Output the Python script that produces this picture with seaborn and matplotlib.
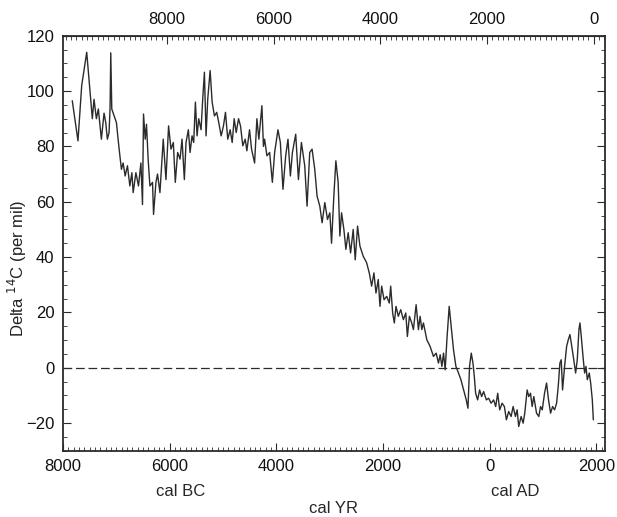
"""
Delta 14C record over the Holocene, redrawn from a scanned figure.

Bottom axis is calendar years (BC on the left, AD on the right),
top axis is the same time axis in years BP (BP = 1950 - AD).
"""
import matplotlib
matplotlib.use("Agg")
import matplotlib.pyplot as plt
import matplotlib.ticker as mticker
import pandas as pd
import seaborn as sns

# ---- values (year AD, negative = BC) ---- #
years = [
    -7825, -7718, -7648, -7554, -7449, -7417, -7373, -7336, -7279, -7229,
    -7197, -7167, -7135, -7116, -7103, -7084, -7040, -6997, -6946, -6903,
    -6871, -6833, -6790, -6745, -6707, -6683, -6632, -6583, -6538, -6508,
    -6489, -6457, -6433, -6401, -6369, -6320, -6301, -6256, -6226, -6181,
    -6119, -6068, -6019, -5974, -5930, -5893, -5849, -5804, -5767, -5723,
    -5692, -5648, -5616, -5579, -5548, -5516, -5485, -5454, -5410, -5379,
    -5347, -5316, -5285, -5240, -5202, -5159, -5116, -5078, -5033, -4990,
    -4952, -4909, -4864, -4826, -4789, -4751, -4707, -4670, -4627, -4582,
    -4551, -4501, -4463, -4406, -4363, -4326, -4269, -4240, -4218, -4175,
    -4124, -4073, -4030, -3968, -3923, -3874, -3823, -3780, -3735, -3697,
    -3635, -3584, -3528, -3466, -3422, -3372, -3328, -3278, -3234, -3183,
    -3140, -3089, -3039, -2995, -2963, -2920, -2882, -2839, -2807, -2775,
    -2732, -2694, -2651, -2606, -2557, -2519, -2475, -2431, -2369, -2306,
    -2256, -2211, -2168, -2130, -2087, -2055, -2023, -1979, -1929, -1880,
    -1854, -1817, -1786, -1754, -1711, -1666, -1616, -1571, -1541, -1503,
    -1459, -1428, -1377, -1334, -1302, -1270, -1240, -1176, -1114, -1052,
    -1001, -958, -926, -894, -863, -832, -800, -757, -719, -676,
    -631, -582, -537, -487, -437, -405, -375, -343, -311, -286,
    -261, -224, -186, -149, -111, -60, -17, 28, 77, 115,
    153, 190, 235, 278, 316, 359, 404, 442, 485, 517,
    547, 592, 630, 660, 705, 735, 768, 799, 830, 881,
    924, 956, 988, 1031, 1069, 1106, 1144, 1182, 1219, 1257,
    1288, 1319, 1344, 1369, 1407, 1445, 1476, 1507, 1532, 1570,
    1614, 1645, 1676, 1695, 1720, 1758, 1783, 1808, 1833, 1870,
    1896, 1927, 1946,
]
delta14c = [
    96.5, 82.0, 102.0, 114.0, 90.0, 97.0, 90.0, 93.5, 82.6, 92.0,
    88.6, 82.6, 85.0, 94.0, 113.8, 93.5, 91.0, 88.6, 79.0, 71.7,
    74.0, 69.3, 73.0, 65.7, 70.5, 63.3, 70.5, 65.7, 74.0, 59.0,
    91.7, 82.6, 88.0, 75.0, 65.7, 67.0, 55.4, 67.0, 70.0, 63.3,
    82.6, 68.0, 87.4, 79.0, 81.4, 67.0, 77.8, 75.4, 82.6, 68.0,
    81.4, 86.0, 77.8, 83.8, 81.4, 96.0, 83.8, 90.0, 86.0, 97.0,
    106.8, 83.8, 97.0, 107.4, 96.0, 91.0, 92.3, 88.6, 83.8, 87.4,
    92.3, 82.6, 86.0, 81.4, 90.0, 85.0, 90.0, 87.4, 80.2, 82.6,
    78.4, 86.0, 79.0, 74.0, 90.0, 82.6, 94.7, 80.0, 82.6, 76.6,
    77.8, 67.0, 77.8, 86.0, 81.4, 64.5, 76.6, 82.6, 69.3, 77.8,
    84.4, 68.0, 81.4, 73.0, 58.4, 77.8, 79.0, 71.7, 62.0, 58.4,
    52.4, 59.7, 53.6, 56.0, 45.0, 62.0, 74.8, 67.0, 47.6, 56.0,
    50.0, 42.8, 48.8, 41.5, 50.0, 39.0, 51.2, 44.0, 40.3, 38.0,
    34.3, 29.5, 34.3, 27.0, 31.9, 22.2, 29.5, 24.6, 25.8, 23.4,
    29.5, 19.8, 16.2, 22.2, 18.6, 21.0, 17.4, 19.8, 11.3, 18.6,
    16.2, 13.8, 22.8, 13.8, 18.6, 13.8, 16.2, 10.1, 7.7, 4.1,
    5.3, 1.7, 4.7, 0.5, 5.3, -0.7, 10.1, 22.2, 15.0, 6.5,
    0.5, -1.9, -4.3, -8.0, -11.6, -14.6, 0.5, 5.3, 1.7, -3.1,
    -9.2, -11.6, -8.0, -10.4, -8.6, -11.6, -11.0, -12.8, -11.6, -14.0,
    -9.2, -15.2, -12.8, -14.0, -18.8, -15.8, -17.6, -14.0, -17.6, -15.2,
    -21.2, -17.6, -20.0, -16.4, -8.0, -10.4, -9.2, -14.0, -10.4, -16.4,
    -17.6, -14.0, -15.2, -9.2, -5.5, -11.6, -16.4, -14.0, -15.2, -12.8,
    -6.7, 1.7, 2.9, -8.0, 0.5, 7.7, 10.1, 12.0, 9.0, 4.1,
    -1.9, 2.9, 13.8, 16.2, 11.3, 2.9, -1.9, 0.5, -4.3, -1.9,
    -5.5, -11.6, -18.8,
]

bottom_ticks = [-8000, -6000, -4000, -2000, 0, 2000]
top_ticks_bp = [8000, 6000, 4000, 2000, 0]
y_ticks = [-20, 0, 20, 40, 60, 80, 100, 120]

INK = "#2b2b2b"
FS = 12


def style_ticks(axis_obj, **extra):
    axis_obj.tick_params(which="both", direction="in", colors=INK,
                         labelsize=FS, labelcolor="#111111", **extra)
    axis_obj.tick_params(which="major", length=6, width=0.8, pad=6)
    axis_obj.tick_params(which="minor", length=3, width=0.6)


def main():
    sns.set_style("ticks")
    plt.rcParams["font.family"] = ["Liberation Sans", "DejaVu Sans"]
    plt.rcParams["axes.edgecolor"] = INK

    df = pd.DataFrame({"year": years, "d14c": delta14c})

    fig = plt.figure(figsize=(6.17, 5.17), dpi=100)
    ax = fig.add_axes([0.102, 0.128, 0.879, 0.803])

    sns.lineplot(data=df, x="year", y="d14c", ax=ax, color=INK,
                 linewidth=1.0, estimator=None)
    ax.axhline(0, color=INK, linewidth=0.9, linestyle=(0, (7, 3)))

    ax.set_xlim(-8000, 2170)
    ax.set_ylim(-30, 120)

    # bottom axis shows absolute years (BC left of 0, AD right of it)
    ax.set_xticks(bottom_ticks)
    ax.xaxis.set_major_formatter(mticker.FuncFormatter(lambda v, _: f"{abs(int(v))}"))
    ax.xaxis.set_minor_locator(mticker.MultipleLocator(100))
    ax.set_yticks(y_ticks)
    ax.yaxis.set_minor_locator(mticker.MultipleLocator(5))
    style_ticks(ax, right=True)
    for s in ax.spines.values():
        s.set_linewidth(1.3)

    # top axis in years BP
    top = ax.secondary_xaxis("top", functions=(lambda x: 1950 - x, lambda b: 1950 - b))
    top.set_xticks(top_ticks_bp)
    top.xaxis.set_minor_locator(mticker.MultipleLocator(100))
    style_ticks(top)

    ax.set_xlabel("")
    ax.set_ylabel("Delta $^{14}$C (per mil)", fontsize=FS, color="#222222")
    ax.yaxis.set_label_coords(-0.062, 0.44)

    fig.text(0.292, 0.050, "cal BC", ha="center", va="center", fontsize=FS)
    fig.text(0.835, 0.050, "cal AD", ha="center", va="center", fontsize=FS)
    fig.text(0.540, 0.017, "cal YR", ha="center", va="center", fontsize=FS)

    fig.savefig("out.png", dpi=100, facecolor="white")
    plt.close(fig)


if __name__ == "__main__":
    main()
